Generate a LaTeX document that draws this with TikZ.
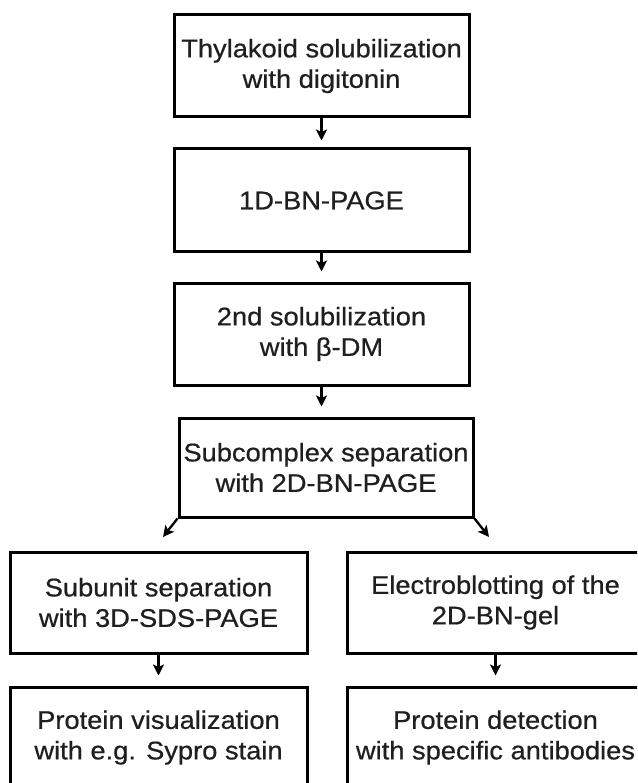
\documentclass[tikz,border=0pt]{standalone}
\usepackage{fontspec}
\setmainfont{Liberation Sans}[FakeStretch=1.07,FakeBold=0.6]
\usetikzlibrary{arrows.meta,calc}
\tikzset{
  flowbox/.style={draw=black, line width=3pt, rectangle, align=center,
    inner sep=0pt, font=\fontsize{25.5}{30.5}\selectfont, text=black!88},
  flowarrow/.style={draw=black, line width=2.3pt,
    -{Stealth[length=11pt,width=11pt,inset=2.5pt]}}
}
\begin{document}
\begin{tikzpicture}[x=1pt,y=-1pt]
\clip (0,0) rectangle (637,783);
\fill[white] (0,0) rectangle (637,783);
\node[flowbox, minimum width=295pt, minimum height=102pt] (n1) at (321.5,66) {Thylakoid solubilization\\with digitonin};
\node[flowbox, minimum width=295pt, minimum height=103pt] (n2) at (321.5,200.5) {1D-BN-PAGE};
\node[flowbox, minimum width=295pt, minimum height=102pt] (n3) at (321.5,334) {2nd solubilization\\with β-DM};
\node[flowbox, minimum width=294pt, minimum height=99pt] (n4) at (326,467.5) {Subcomplex separation\\with 2D-BN-PAGE};
\node[flowbox, minimum width=297pt, minimum height=101pt] (n5) at (158.5,602.5) {Subunit separation\\with 3D-SDS-PAGE};
\node[flowbox, minimum width=297pt, minimum height=101pt] (n6) at (495.5,602.5) {Electroblotting of the\\2D-BN-gel};
\node[flowbox, minimum width=297pt, minimum height=101pt] (n7) at (158.5,737.5) {Protein visualization\\with e.g. Sypro stain};
\node[flowbox, minimum width=297pt, minimum height=101pt] (n8) at (495.5,737.5) {Protein detection\\with specific antibodies};
\coordinate (tipL) at (163,537);
\coordinate (tipR) at (489,537);
\draw[flowarrow, shorten >=7pt] (n1.south) -- (n1.south |- n2.north);
\draw[flowarrow, shorten >=10pt] (n2.south) -- (n2.south |- n3.north);
\draw[flowarrow, shorten >=10pt] (n3.south) -- (n3.south |- n4.north);
\draw[flowarrow] (n4.south west) -- (tipL);
\draw[flowarrow] (n4.south east) -- (tipR);
\draw[flowarrow, shorten >=10pt] (n5.south) -- (n5.south |- n7.north);
\draw[flowarrow, shorten >=10pt] (n6.south) -- (n6.south |- n8.north);
\end{tikzpicture}
\end{document}
